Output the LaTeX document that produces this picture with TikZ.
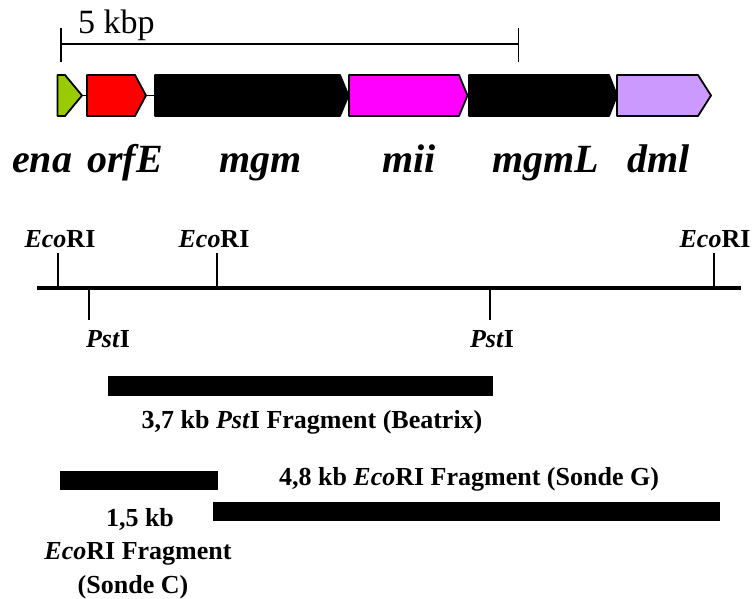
\documentclass[tikz,border=0pt]{standalone}
\usepackage{fontspec}
\setmainfont{Liberation Serif}
\definecolor{enagreen}{HTML}{99CC00}
\definecolor{miimag}{HTML}{FF00FF}
\definecolor{dmlviolet}{HTML}{CC99FF}
\begin{document}
\begin{tikzpicture}[x=1pt,y=-1pt,
  gene/.style={draw=black,line width=1.8pt,line join=round},
  genelabel/.style={anchor=base west,inner sep=0pt,font=\fontsize{40}{40}\selectfont\bfseries\itshape},
  sitelabel/.style={anchor=base,inner sep=0pt,font=\fontsize{26}{26}\selectfont\bfseries},
  fraglabel/.style={anchor=base,inner sep=0pt,font=\fontsize{26}{26}\selectfont\bfseries},
  tick/.style={line width=1.8pt},
  frag/.style={fill=black,draw=none}]
\useasboundingbox (0,0) rectangle (752,599);

% scale bar
\coordinate (sb1) at (61,44);
\coordinate (sb2) at (518.5,44);
\draw[line width=1.6pt] (sb1) -- (sb2);
\draw[line width=1.6pt] (61,28) -- (61,62);
\draw[line width=1.6pt] (518.5,28) -- (518.5,62);
\node[anchor=base west,inner sep=0pt,font=\fontsize{34}{34}\selectfont] (kbp) at (78,34) {5 kbp};

% backbone between genes
\draw[line width=1.8pt] (82,95.5) -- (87,95.5);
\draw[line width=1.8pt] (146,95.5) -- (155,95.5);

% genes
\draw[gene,fill=enagreen] (57.5,75) -- (65,75) -- (82,95.5) -- (65,116) -- (57.5,116) -- cycle;
\draw[gene,fill=red] (87,75) -- (135,75) -- (146,95.5) -- (135,116) -- (87,116) -- cycle;
\draw[gene,fill=black] (155,75) -- (340,75) -- (348.5,95.5) -- (340,116) -- (155,116) -- cycle;
\draw[gene,fill=miimag] (349,75) -- (459,75) -- (467.5,95.5) -- (459,116) -- (349,116) -- cycle;
\draw[gene,fill=black] (469,75) -- (609,75) -- (617,95.5) -- (609,116) -- (469,116) -- cycle;
\draw[gene,fill=dmlviolet] (617,75) -- (698,75) -- (711,95.5) -- (698,116) -- (617,116) -- cycle;

% gene labels
\node[genelabel] (lena) at (12,172) {ena};
\node[genelabel] (lorf) at (87,172) {orfE};
\node[genelabel] (lmgm) at (219,172) {mgm};
\node[genelabel] (lmii) at (382,172) {mii};
\node[genelabel] (lmgml) at (492,172) {mgmL};
\node[genelabel] (ldml) at (627,172) {dml};

% restriction map
\draw[line width=4pt] (37,288) -- (741,288);
\draw[tick] (58,253) -- (58,288);
\draw[tick] (217,253) -- (217,288);
\draw[tick] (714,253) -- (714,288);
\draw[tick] (89,288) -- (89,320);
\draw[tick] (490,288) -- (490,320);

\node[sitelabel] (e1) at (60,247) {\textit{Eco}RI};
\node[sitelabel] (e2) at (214,247) {\textit{Eco}RI};
\node[sitelabel] (e3) at (715,247) {\textit{Eco}RI};
\node[sitelabel] (p1) at (108,347) {\textit{Pst}I};
\node[sitelabel] (p2) at (492,347) {\textit{Pst}I};

% fragments
\fill[frag] (108,376) rectangle (493,396);
\fill[frag] (60,471) rectangle (218,490);
\fill[frag] (213,502) rectangle (720,521);

\node[fraglabel] (f1) at (312,428) {3,7 kb \textit{Pst}I Fragment (Beatrix)};
\node[fraglabel] (f3) at (469,485) {4,8 kb \textit{Eco}RI Fragment (Sonde G)};
\node[fraglabel] (f2a) at (140,526) {1,5 kb};
\node[fraglabel] (f2b) at (138,559) {\textit{Eco}RI Fragment};
\node[fraglabel] (f2c) at (133,593) {(Sonde C)};
\end{tikzpicture}
\end{document}
